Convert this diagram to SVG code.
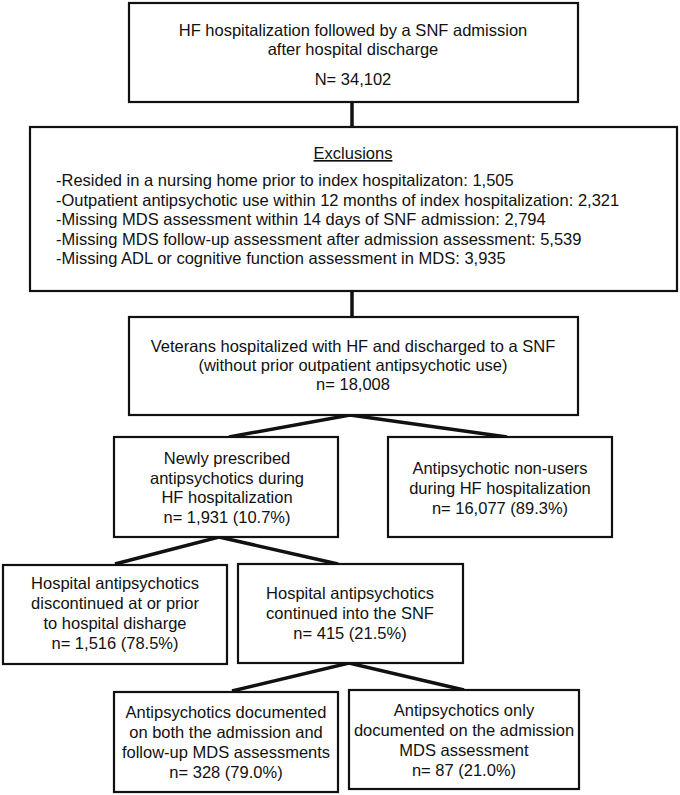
<svg xmlns="http://www.w3.org/2000/svg" width="680" height="795" viewBox="0 0 680 795">
<style>
.box{fill:#fff;stroke:#111;stroke-width:2.2}
.c{stroke:#111;stroke-width:3.5;fill:none;stroke-linecap:butt}
text{font-family:"Liberation Sans",Arial,sans-serif;font-size:16.5px;fill:#111}
.m{text-anchor:middle}
</style>
<rect width="680" height="795" fill="#fff"/>
<g id="connectors">
<line class="c" x1="352" y1="102" x2="352" y2="127"/>
<line class="c" x1="352" y1="291" x2="352" y2="317"/>
<polyline class="c" points="229,437 350,415 507,437"/>
<polyline class="c" points="115,564 219,537 338,564"/>
<polyline class="c" points="232,691 349,663 464,690"/>
</g>
<g id="n1">
<rect class="box" x="129" y="3" width="449" height="99"/>
<text class="m" x="353" y="36">HF hospitalization followed by a SNF admission</text>
<text class="m" x="353" y="55">after hospital discharge</text>
<text class="m" x="353" y="85">N= 34,102</text>
</g>
<g id="n2">
<rect class="box" x="30" y="127" width="647" height="164"/>
<text class="m" x="353" y="159" text-decoration="underline">Exclusions</text>
<text x="56" y="186">-Resided in a nursing home prior to index hospitalizaton: 1,505</text>
<text x="56" y="206">-Outpatient antipsychotic use within 12 months of index hospitalization: 2,321</text>
<text x="56" y="225">-Missing MDS assessment within 14 days of SNF admission: 2,794</text>
<text x="56" y="245">-Missing MDS follow-up assessment after admission assessment: 5,539</text>
<text x="56" y="264">-Missing ADL or cognitive function assessment in MDS: 3,935</text>
</g>
<g id="n3">
<rect class="box" x="129" y="317" width="449" height="98"/>
<text class="m" x="353" y="352">Veterans hospitalized with HF and discharged to a SNF</text>
<text class="m" x="353" y="371">(without prior outpatient antipsychotic use)</text>
<text class="m" x="353" y="390">n= 18,008</text>
</g>
<g id="n4">
<rect class="box" x="114" y="437" width="224" height="100"/>
<text class="m" x="227" y="464">Newly prescribed</text>
<text class="m" x="227" y="484">antipsychotics during</text>
<text class="m" x="227" y="503">HF hospitalization</text>
<text class="m" x="227" y="523">n= 1,931 (10.7%)</text>
</g>
<g id="n5">
<rect class="box" x="388" y="437" width="224" height="100"/>
<text class="m" x="500" y="474">Antipsychotic non-users</text>
<text class="m" x="500" y="494">during HF hospitalization</text>
<text class="m" x="500" y="514">n= 16,077 (89.3%)</text>
</g>
<g id="n6">
<rect class="box" x="3" y="565" width="224" height="99"/>
<text class="m" x="115" y="589">Hospital antipsychotics</text>
<text class="m" x="115" y="609">discontinued at or prior</text>
<text class="m" x="115" y="629">to hospital disharge</text>
<text class="m" x="115" y="649">n= 1,516 (78.5%)</text>
</g>
<g id="n7">
<rect class="box" x="238" y="564" width="225" height="99"/>
<text class="m" x="350" y="599">Hospital antipsychotics</text>
<text class="m" x="350" y="619">continued into the SNF</text>
<text class="m" x="350" y="639">n= 415 (21.5%)</text>
</g>
<g id="n8">
<rect class="box" x="114" y="692" width="224" height="100"/>
<text class="m" x="226" y="718">Antipsychotics documented</text>
<text class="m" x="226" y="738">on both the admission and</text>
<text class="m" x="226" y="758">follow-up MDS assessments</text>
<text class="m" x="226" y="778">n= 328 (79.0%)</text>
</g>
<g id="n9">
<rect class="box" x="349" y="690" width="230" height="99"/>
<text class="m" x="464" y="716">Antipsychotics only</text>
<text class="m" x="464" y="736">documented on the admission</text>
<text class="m" x="464" y="756">MDS assessment</text>
<text class="m" x="464" y="776">n= 87 (21.0%)</text>
</g>
</svg>
